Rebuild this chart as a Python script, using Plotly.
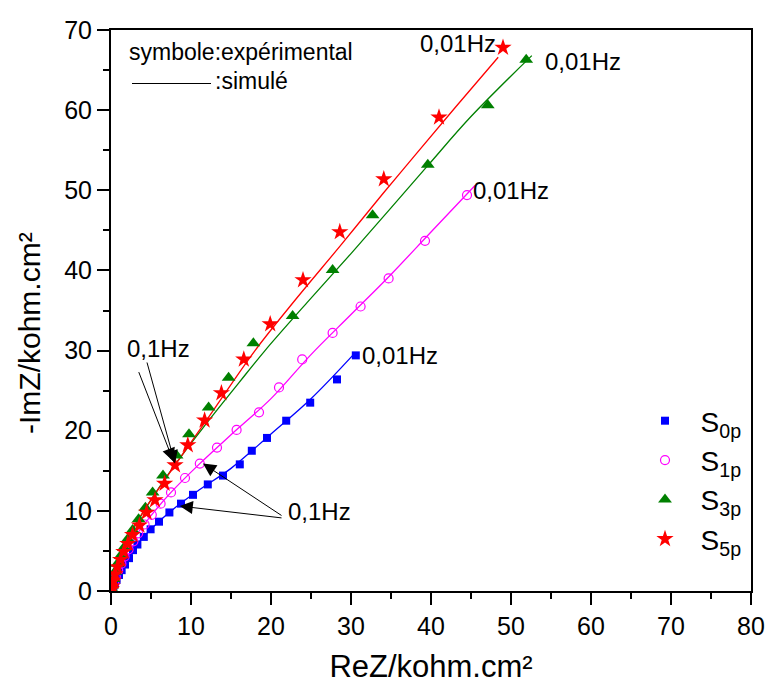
import plotly.graph_objects as go

# ---- experimental data (ReZ, -ImZ in kohm.cm²) ----
s0_x = [0.15, 0.3, 0.5, 0.7, 1.0, 1.33, 1.75, 2.25, 2.75, 3.3, 4.1, 4.95, 6.0, 7.3, 8.75,
        10.25, 12.1, 14.0, 16.1, 17.6, 19.5, 21.9, 24.9, 28.25, 30.6]
s0_y = [0.2, 0.6, 1.0, 1.4, 2.0, 2.6, 3.3, 4.1, 5.1, 5.8, 6.75, 7.7, 8.65, 9.8, 10.9,
        12.0, 13.3, 14.4, 15.8, 17.5, 19.1, 21.25, 23.5, 26.4, 29.4]

s1_x = [0.1, 0.2, 0.4, 0.6, 0.9, 1.3, 1.7, 2.2, 2.8, 3.4, 4.2, 5.1, 6.2, 7.5, 9.25, 11.1,
        13.25, 15.7, 18.5, 21.0, 23.9, 27.7, 31.2, 34.7, 39.25, 44.5]
s1_y = [0.2, 0.5, 1.0, 1.8, 2.6, 3.4, 4.3, 5.2, 6.2, 7.2, 8.3, 9.5, 10.9, 12.3, 14.1, 15.9,
        17.9, 20.1, 22.3, 25.4, 28.9, 32.2, 35.5, 39.0, 43.7, 49.4]

s3_x = [0.05, 0.15, 0.3, 0.5, 0.8, 1.2, 1.6, 2.1, 2.7, 3.45, 4.3, 5.2, 6.5, 8.2, 9.75, 12.2,
        14.7, 17.8, 22.7, 27.7, 32.7, 39.6, 47.1, 51.9]
s3_y = [0.3, 0.7, 1.5, 2.4, 3.4, 4.4, 5.4, 6.5, 7.6, 8.95, 10.4, 12.3, 14.4, 16.9, 19.55, 22.9,
        26.6, 30.9, 34.3, 40.05, 46.9, 53.2, 60.6, 66.3]

s5_x = [0.05, 0.15, 0.3, 0.5, 0.8, 1.2, 1.6, 2.1, 2.7, 3.55, 4.45, 5.5, 6.7, 8.0, 9.6, 11.7,
        13.8, 16.6, 19.9, 24.0, 28.6, 34.1, 41.0, 49.0]
s5_y = [0.2, 0.6, 1.3, 2.1, 3.0, 3.9, 4.9, 5.9, 7.0, 8.2, 9.8, 11.35, 13.4, 15.7, 18.2, 21.3,
        24.7, 28.9, 33.3, 38.8, 44.8, 51.4, 59.1, 67.8]

# ---- simulated curves ----
f0_x = [0, 0.3, 1, 2, 3.5, 5.5, 8, 11, 15, 20, 25, 30.3]
f0_y = [0, 0.8, 2.0, 3.7, 6.1, 8.2, 10.4, 12.6, 15.3, 19.6, 24.0, 29.5]

f1_x = [0, 0.2, 0.8, 1.8, 3.2, 5, 7.5, 11, 15, 20, 25, 30, 35, 40, 45.5]
f1_y = [0, 0.7, 2.4, 4.5, 7.0, 9.4, 12.3, 15.8, 19.5, 24.0, 29.5, 34.5, 39.5, 44.8, 50.6]

f3_x = [0, 0.1, 0.5, 1.2, 2.5, 4.5, 8.1, 12, 16, 19.25, 24.7, 30, 35, 39.7, 45, 52.6]
f3_y = [0, 0.8, 2.5, 4.4, 7.2, 10.6, 15.9, 21.0, 26.0, 30.0, 36.2, 42.1, 47.8, 53.2, 59.2, 66.8]

f5_x = [0, 0.1, 0.5, 1.2, 2.5, 4.5, 8, 12, 18, 23.1, 28.6, 34, 38.2, 43, 48.4]
f5_y = [0, 0.8, 2.6, 4.6, 7.4, 10.6, 15.7, 21.4, 30.0, 36.4, 43.0, 49.6, 54.6, 60.3, 66.6]

names = ["S<sub>0p</sub>", "S<sub>1p</sub>", "S<sub>3p</sub>", "S<sub>5p</sub>"]
colors = ["#0000ff", "#ff00ff", "#008000", "#ff0000"]

x_ticks = [0, 10, 20, 30, 40, 50, 60, 70, 80]
y_ticks = [0, 10, 20, 30, 40, 50, 60, 70]

FONT = "Liberation Sans, Arial, sans-serif"

fig = go.Figure()

fits = [(f0_x, f0_y), (f1_x, f1_y), (f3_x, f3_y), (f5_x, f5_y)]
for (fx, fy), c in zip(fits, colors):
    fig.add_trace(go.Scatter(x=fx, y=fy, mode="lines", line=dict(color=c, width=1.3, shape="spline"),
                             showlegend=False, hoverinfo="skip"))

exps = [(s0_x, s0_y, "square", 8, None),
        (s1_x, s1_y, "circle-open", 9, 1.2),
        (s3_x, s3_y, "triangle-up", 12, None),
        (s5_x, s5_y, "star", 13, None)]
for (ex, ey, sym, sz, lw), c, nm in zip(exps, colors, names):
    mk = dict(symbol=sym, size=sz, color=c)
    if lw:
        mk["line"] = dict(color=c, width=lw)
    else:
        mk["line"] = dict(width=0)
    fig.add_trace(go.Scatter(x=ex, y=ey, mode="markers", marker=mk,
                             name="\u00a0\u00a0" + nm))

# annotations
ann = []
def label(x, y, t, size=24):
    ann.append(dict(x=x, y=y, xref="x", yref="y", text=t, showarrow=False,
                    font=dict(family=FONT, size=size, color="black")))

label(43.4, 68.3, "0,01Hz")
label(59.0, 66.1, "0,01Hz")
label(50.0, 50.0, "0,01Hz")
label(36.1, 29.4, "0,01Hz")
label(5.9, 30.2, "0,1Hz")
label(26.1, 9.9, "0,1Hz")

def arrow(tx, ty, ax, ay):
    ann.append(dict(x=tx, y=ty, xref="x", yref="y", ax=ax, ay=ay, axref="x", ayref="y",
                    text="", showarrow=True, arrowhead=2, arrowsize=2.6, arrowwidth=1,
                    arrowcolor="black"))

arrow(7.8, 16.2, 3.4, 27.5)
arrow(8.0, 15.9, 4.45, 28.7)
arrow(11.5, 15.9, 21.5, 9.3)
arrow(8.6, 10.6, 21.5, 9.1)

# legend-like text at top-left
ann.append(dict(x=(127 - 111) / 640, y=(591 - 52) / 561, xref="paper", yref="paper",
                xanchor="left", yanchor="middle", text="symbole:expérimental", showarrow=False,
                font=dict(family=FONT, size=23, color="black")))
ann.append(dict(x=(213 - 111) / 640, y=(591 - 81) / 561, xref="paper", yref="paper",
                xanchor="left", yanchor="middle", text=":simulé", showarrow=False,
                font=dict(family=FONT, size=23, color="black")))
# y-axis title
ann.append(dict(x=-(111 - 30) / 640, y=(591 - 333) / 561, xref="paper", yref="paper",
                xanchor="center", yanchor="middle", text="-ImZ/kohm.cm²", textangle=-90,
                showarrow=False, font=dict(family=FONT, size=30, color="black")))

shapes = [dict(type="line", xref="paper", yref="paper",
               x0=(132 - 111) / 640, x1=(211 - 111) / 640,
               y0=(591 - 83.5) / 561, y1=(591 - 83.5) / 561,
               line=dict(color="black", width=1))]

axis_common = dict(showline=True, linewidth=2, linecolor="black", mirror=True,
                   ticks="outside", ticklen=12, tickwidth=2, tickcolor="black",
                   showgrid=False, zeroline=False,
                   tickfont=dict(family=FONT, size=25, color="black"),
                   minor=dict(ticks="outside", ticklen=6, tickwidth=2, tickcolor="black",
                              dtick=5, showgrid=False))

# the page adds an 8px body margin, so the figure is 8px smaller and margins shifted
fig.update_layout(
    width=765, height=676,
    margin=dict(l=103, r=22, t=22, b=93, autoexpand=False),
    paper_bgcolor="white", plot_bgcolor="white",
    font=dict(family=FONT, color="black"),
    xaxis=dict(range=[0, 80], tickvals=x_ticks, ticktext=[str(v) for v in x_ticks],
               title=dict(text="ReZ/kohm.cm²", font=dict(family=FONT, size=31, color="black"),
                          standoff=22),
               automargin=False,
               **axis_common),
    yaxis=dict(range=[0, 70], tickvals=y_ticks, ticktext=[str(v) for v in y_ticks],
               automargin=False,
               **axis_common),
    legend=dict(x=(645 - 111) / 640, y=(591 - 396) / 561, xanchor="left", yanchor="top",
                bgcolor="rgba(0,0,0,0)", font=dict(family=FONT, size=28, color="black"),
                tracegroupgap=0, itemsizing="trace"),
    annotations=ann, shapes=shapes,
    showlegend=True,
)

fig.write_html("out.html")
